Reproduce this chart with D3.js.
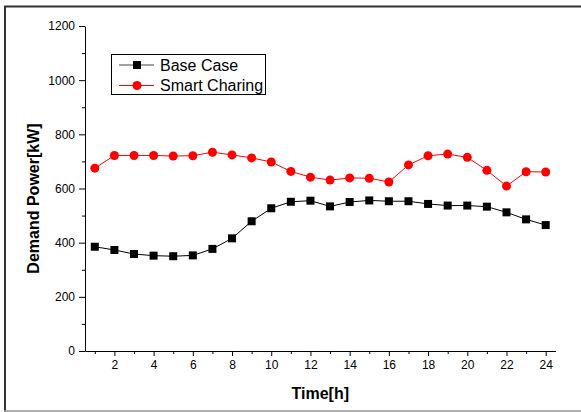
<!DOCTYPE html>
<html>
<head>
<meta charset="utf-8">
<script src="https://cdn.jsdelivr.net/npm/d3@7"></script>
<style>
  body { margin: 0; background: #fff; }
  svg { display: block; font-family: Arial, "Liberation Sans", sans-serif; }
</style>
</head>
<body>
<div id="my_dataviz"></div>
<script>
// data
const hours = d3.range(1, 25);
const baseCase = [385, 373, 358, 352, 350, 353, 377, 416, 479, 527, 551, 555,
                  534, 550, 556, 553, 553, 543, 537, 537, 533, 512, 486, 465];
const smartCharging = [675, 722, 722, 722, 720, 721, 734, 724, 713, 698, 663, 642,
                       631, 639, 638, 624, 687, 721, 727, 715, 667, 609, 662, 661];
const seriesNames = ["Base Case", "Smart Charing"];
const yMajorTicks = [0, 200, 400, 600, 800, 1000, 1200];
const yMinorTicks = [100, 300, 500, 700, 900, 1100];
const xMajorTicks = [2, 4, 6, 8, 10, 12, 14, 16, 18, 20, 22, 24];
const xMinorTicks = [1, 3, 5, 7, 9, 11, 13, 15, 17, 19, 21, 23];

const w = 581, h = 412;
const margin = { top: 26, right: 25.5, bottom: 61, left: 85 };

const svg = d3.select("#my_dataviz")
    .append("svg")
    .attr("width", w)
    .attr("height", h);

// outer frame
svg.append("line").attr("x1", 5).attr("x2", 5).attr("y1", 6).attr("y2", 412)
    .attr("stroke", "#333").attr("stroke-width", 2);
svg.append("line").attr("x1", 4).attr("x2", 581).attr("y1", 6.5).attr("y2", 6.5)
    .attr("stroke", "#333").attr("stroke-width", 2);
svg.append("line").attr("x1", 4).attr("x2", 581).attr("y1", 411).attr("y2", 411)
    .attr("stroke", "#999").attr("stroke-width", 1.5);

const x = d3.scaleLinear()
    .domain([0.5, 24.5])
    .range([margin.left, w - margin.right]);

const y = d3.scaleLinear()
    .domain([0, 1200])
    .range([h - margin.bottom, margin.top]);

// x axis
svg.append("g")
    .attr("transform", `translate(0, ${y(0)})`)
    .call(d3.axisBottom(x).tickValues(xMajorTicks).tickFormat(d3.format("d"))
        .tickSize(5).tickPadding(4).tickSizeOuter(0));
svg.append("g")
    .attr("transform", `translate(0, ${y(0)})`)
    .call(d3.axisBottom(x).tickValues(xMinorTicks).tickSize(3).tickFormat("").tickSizeOuter(0))
    .select(".domain").remove();

// y axis
svg.append("g")
    .attr("transform", `translate(${x(0.5)}, 0)`)
    .call(d3.axisLeft(y).tickValues(yMajorTicks).tickFormat(d3.format("d"))
        .tickSize(6).tickPadding(4).tickSizeOuter(0));
svg.append("g")
    .attr("transform", `translate(${x(0.5)}, 0)`)
    .call(d3.axisLeft(y).tickValues(yMinorTicks).tickSize(3).tickFormat("").tickSizeOuter(0))
    .select(".domain").remove();

svg.selectAll(".tick text")
    .style("font-size", "12px")
    .style("font-family", "Arial, 'Liberation Sans', sans-serif")
    .attr("fill", "#000");

// axis titles
svg.append("text")
    .attr("x", x(12.5))
    .attr("y", 399)
    .attr("text-anchor", "middle")
    .style("font-size", "16px")
    .style("font-weight", "bold")
    .text("Time[h]");

svg.append("text")
    .attr("transform", `translate(39, ${y(600) + 10}) rotate(-90)`)
    .attr("text-anchor", "middle")
    .style("font-size", "16px")
    .style("font-weight", "bold")
    .text("Demand Power[kW]");

const line = d3.line()
    .x((d, i) => x(hours[i]))
    .y(d => y(d));

// base case series
svg.append("path")
    .datum(baseCase)
    .attr("fill", "none")
    .attr("stroke", "#000")
    .attr("stroke-width", 1)
    .attr("d", line);

svg.selectAll(".sq")
    .data(baseCase)
    .enter()
    .append("rect")
    .attr("class", "sq")
    .attr("x", (d, i) => x(hours[i]) - 4)
    .attr("y", d => y(d) - 4)
    .attr("width", 8)
    .attr("height", 8)
    .attr("fill", "#000");

// smart charging series
svg.append("path")
    .datum(smartCharging)
    .attr("fill", "none")
    .attr("stroke", "#ff0000")
    .attr("stroke-width", 1)
    .attr("d", line);

svg.selectAll(".dot")
    .data(smartCharging)
    .enter()
    .append("circle")
    .attr("class", "dot")
    .attr("cx", (d, i) => x(hours[i]))
    .attr("cy", d => y(d))
    .attr("r", 4.5)
    .attr("fill", "#ff0000");

// legend
const legend = svg.append("g");
legend.append("rect")
    .attr("x", 111.5).attr("y", 54.5)
    .attr("width", 154).attr("height", 40)
    .attr("fill", "#fff")
    .attr("stroke", "#000")
    .attr("stroke-width", 1);

seriesNames.forEach((name, i) => {
    const ly = 65 + i * 20.5;
    const col = i === 0 ? "#000" : "#ff0000";
    legend.append("line")
        .attr("x1", 119).attr("x2", 154)
        .attr("y1", ly).attr("y2", ly)
        .attr("stroke", i === 0 ? "#444" : "#ff0000")
        .attr("stroke-width", 1);
    if (i === 0) {
        legend.append("rect")
            .attr("x", 133).attr("y", ly - 4)
            .attr("width", 8).attr("height", 8)
            .attr("fill", col);
    } else {
        legend.append("circle")
            .attr("cx", 137).attr("cy", ly)
            .attr("r", 4.5)
            .attr("fill", col);
    }
    legend.append("text")
        .attr("x", 160)
        .attr("y", ly + 5.5)
        .style("font-size", "16px")
        .text(name);
});
</script>
</body>
</html>
